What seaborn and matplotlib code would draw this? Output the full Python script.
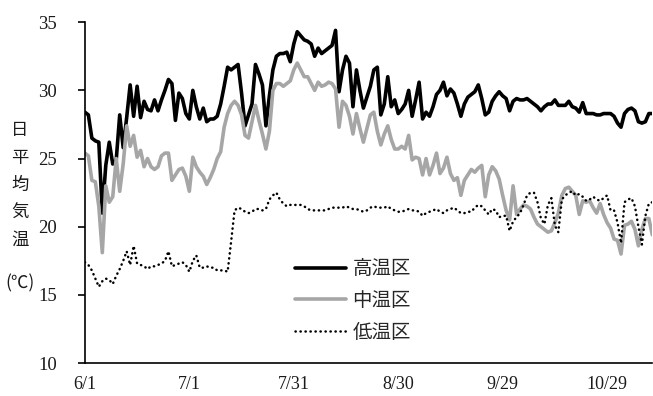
import numpy as np
import pandas as pd
import matplotlib
matplotlib.use("Agg")
import matplotlib.pyplot as plt
import seaborn as sns

# Daily mean temperature (°C), 6/1 onward, one value per day
high = [
    28.4, 28.2, 26.5, 26.3, 26.2, 21.0, 24.5, 26.2, 24.6, 24.9,
    28.2, 25.8, 28.0, 30.4, 28.1, 30.3, 28.0, 29.2, 28.6, 28.5,
    29.3, 28.5, 29.3, 30.0, 30.8, 30.5, 27.8, 29.8, 29.4, 28.3,
    27.9, 30.0, 28.8, 27.9, 28.7, 27.7, 27.9, 27.9, 28.1, 29.0,
    30.3, 31.7, 31.5, 31.7, 31.9, 29.8, 27.4, 28.2, 29.0, 31.9,
    31.2, 30.4, 27.4, 29.6, 31.5, 32.5, 32.7, 32.7, 32.8, 32.1,
    33.4, 34.3, 34.0, 33.7, 33.6, 33.4, 32.5, 33.1, 32.7, 32.9,
    33.1, 33.3, 34.4, 29.9, 31.5, 32.5, 32.0, 28.8, 31.5, 30.0,
    28.7, 29.5, 30.3, 31.5, 31.7, 28.2, 29.0, 31.0, 28.8, 29.3,
    28.3, 28.6, 29.0, 30.0, 28.1, 29.3, 30.6, 27.9, 28.4, 28.1,
    28.8, 29.7, 30.0, 30.6, 29.6, 30.1, 29.8, 29.0, 28.1, 29.0,
    29.5, 29.7, 29.9, 30.4, 29.4, 28.2, 28.4, 29.2, 29.6, 29.9,
    29.6, 29.4, 28.5, 29.2, 29.4, 29.3, 29.3, 29.4, 29.2, 29.0,
    28.8, 28.5, 28.8, 29.0, 29.0, 29.3, 28.9, 28.9, 28.9, 29.2,
    28.8, 28.7, 28.4, 29.1, 28.3, 28.3, 28.3, 28.2, 28.2, 28.3,
    28.3, 28.3, 28.1, 27.6, 27.3, 28.3, 28.6, 28.7, 28.5, 27.7,
    27.6, 27.7, 28.3, 28.3,
]
mid = [
    25.4, 25.2, 23.4, 23.3, 21.5, 18.1, 23.0, 21.8, 22.2, 25.0,
    22.6, 24.6, 27.4, 25.9, 26.7, 25.1, 25.6, 24.4, 25.0, 24.4,
    24.2, 24.4, 25.2, 25.4, 25.4, 23.4, 23.8, 24.2, 24.3, 23.7,
    22.6, 25.1, 24.4, 24.0, 23.7, 23.1, 23.6, 24.2, 25.0, 25.5,
    27.3, 28.3, 28.9, 29.2, 28.9, 28.2, 26.7, 26.5, 27.7, 28.9,
    27.8, 26.8, 25.7, 27.0, 30.0, 30.5, 30.5, 30.3, 30.5, 30.7,
    31.5, 32.0, 31.5, 31.0, 31.0, 30.5, 30.0, 30.6, 30.3, 30.4,
    30.6, 30.5, 30.1, 27.3, 29.2, 28.9, 28.1, 26.8, 28.3, 27.2,
    26.2, 27.2, 28.2, 28.4, 27.0, 26.0, 26.8, 27.4, 26.4, 25.7,
    25.7, 25.9, 25.7, 26.7, 24.9, 25.1, 25.0, 23.8, 25.0, 23.8,
    24.5, 25.4, 23.9, 24.3, 25.1, 23.9, 23.4, 23.6, 22.3, 23.4,
    23.8, 24.2, 24.0, 24.3, 24.5, 22.2, 23.8, 24.4, 24.1, 23.5,
    22.3, 21.2, 20.5, 23.0, 20.9, 21.3, 21.6, 21.5, 21.3, 20.7,
    20.2, 20.0, 19.8, 19.6, 19.7, 20.3, 21.0, 22.3, 22.8, 22.9,
    22.6, 22.3, 20.9, 21.9, 21.8, 21.9, 21.4, 21.0, 21.7, 20.9,
    20.3, 19.9, 19.1, 19.0, 18.0, 20.1, 20.2, 20.4, 19.8, 18.6,
    19.8, 20.6, 20.6, 19.4,
]
low = [
    17.4, 17.2, 16.8, 16.2, 15.6, 16.0, 16.2, 16.1, 15.8, 16.4,
    16.9, 17.5, 18.2, 17.2, 18.6, 17.3, 17.2, 17.1, 16.9, 17.1,
    17.1, 17.2, 17.3, 17.5, 18.2, 17.1, 17.2, 17.3, 17.4, 17.2,
    16.7, 17.5, 17.9, 17.0, 17.0, 17.1, 17.0, 17.0, 16.8, 16.8,
    16.8, 16.7, 18.9, 21.2, 21.4, 21.3, 21.1, 21.0, 21.1, 21.3,
    21.3, 21.2, 21.3, 22.0, 22.3, 22.5, 22.0, 21.7, 21.5, 21.6,
    21.6, 21.6, 21.6, 21.5, 21.3, 21.2, 21.2, 21.2, 21.2, 21.2,
    21.3, 21.4, 21.4, 21.4, 21.4, 21.5, 21.4, 21.3, 21.3, 21.2,
    21.1, 21.2, 21.4, 21.5, 21.4, 21.4, 21.4, 21.5, 21.3, 21.2,
    21.1, 21.1, 21.2, 21.3, 21.2, 21.2, 21.1, 20.8, 21.0, 21.1,
    21.2, 21.3, 21.1, 21.0, 21.2, 21.3, 21.4, 21.2, 21.0, 21.0,
    21.1, 21.1, 21.4, 21.6, 21.5, 21.2, 20.9, 21.3, 21.2, 20.7,
    20.8, 20.8, 19.7, 20.4, 20.7, 21.0, 21.6, 22.3, 22.5, 22.5,
    21.8, 20.6, 20.2, 21.6, 22.1, 20.1, 19.6, 22.0, 22.3, 22.5,
    22.6, 22.3, 22.4, 22.2, 21.9, 22.0, 22.2, 22.0, 21.9, 22.1,
    22.3, 21.2, 21.2, 20.3, 18.8, 21.8, 22.0, 22.1, 21.5, 20.0,
    18.7, 20.8, 21.7, 21.8,
]
series_names = ["高温区", "中温区", "低温区"]
tick_days = [0, 30, 60, 90, 120, 150]
tick_labels = ["6/1", "7/1", "7/31", "8/30", "9/29", "10/29"]
y_ticks = [10, 15, 20, 25, 30, 35]
ylabel_chars = ["日", "平", "均", "気", "温"]

days = np.arange(len(high))
df = pd.DataFrame({
    "day": np.tile(days, 3),
    "temp": np.concatenate([high, mid, low]),
    "zone": np.repeat(series_names, len(days)),
})

sns.set_theme(style="white")
plt.rcParams["font.family"] = ["Liberation Serif", "Noto Sans CJK JP"]

fig = plt.figure(figsize=(6.53, 3.96), dpi=100)
ax = fig.add_axes([0.130, 0.083, 0.869, 0.861])

styles = {
    "高温区": dict(color="black", lw=2.6, linestyle="-"),
    "中温区": dict(color="#a6a6a6", lw=2.6, linestyle="-"),
    "低温区": dict(color="black", lw=1.8, linestyle=(0, (0.1, 1.9)),
                 dash_capstyle="round"),
}
for name in series_names:
    sub = df[df["zone"] == name]
    sns.lineplot(data=sub, x="day", y="temp", ax=ax, label=name,
                 **styles[name])

ax.set_xlim(0, len(days) - 1)
ax.set_ylim(10, 35)
ax.set_xticks(tick_days)
ax.set_xticklabels(tick_labels)
ax.set_yticks(y_ticks)
ax.set_xlabel("")
ax.set_ylabel("")
for side in ["top", "right"]:
    ax.spines[side].set_visible(False)
for side in ["left", "bottom"]:
    ax.spines[side].set_color("black")
    ax.spines[side].set_linewidth(1.2)
ax.tick_params(axis="y", which="both", left=True, direction="out",
               length=5, width=1.2, color="black", labelsize=13.5,
               pad=15, labelcolor="#1a1a1a")
ax.tick_params(axis="x", which="both", bottom=False, labelsize=13,
               pad=3, labelcolor="#1a1a1a")

leg = ax.legend(loc="upper left", bbox_to_anchor=(0.357, 0.33), frameon=False,
                handlelength=2.6, handletextpad=0.35, labelspacing=0.55,
                borderaxespad=0.0,
                prop={"family": "Noto Sans CJK JP", "size": 14})

# vertical axis title, one glyph per row
for i, ch in enumerate(ylabel_chars):
    fig.text(20 / 653, 1 - (130 + 27.5 * i) / 396, ch, ha="center",
             va="center", fontsize=12.5, family="Noto Sans CJK JP",
             color="#1a1a1a")
fig.text(20 / 653, 1 - 283 / 396, "(℃)", ha="center", va="center",
         fontsize=12.5, family="Noto Sans CJK JP", color="#1a1a1a")

fig.savefig("out.png", dpi=100)
